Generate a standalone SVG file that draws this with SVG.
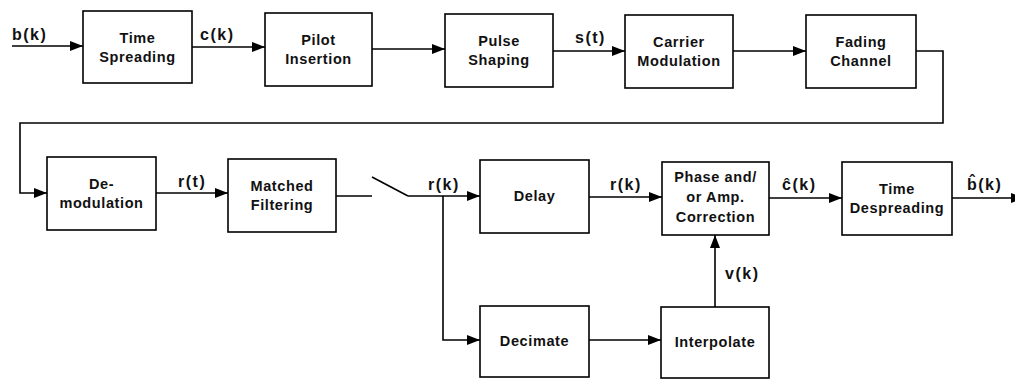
<svg xmlns="http://www.w3.org/2000/svg" width="1015" height="379" viewBox="0 0 1015 379">
  <style>
    .box { fill: #fff; stroke: #000; stroke-width: 1.6; }
    .t { font-family: "Liberation Sans", Arial, sans-serif; font-size: 14.5px; font-weight: bold; letter-spacing: 0.6px; text-anchor: middle; fill: #111; }
    .lbl { font-family: "Liberation Sans", Arial, sans-serif; font-size: 16px; font-weight: bold; letter-spacing: 1.5px; fill: #111; }
    .w { fill: none; stroke: #000; stroke-width: 1.6; }
    .a { marker-end: url(#arr); }
  </style>
  <defs>
    <marker id="arr" viewBox="0 0 13 10" refX="13" refY="5" markerWidth="13" markerHeight="10" markerUnits="userSpaceOnUse" orient="auto">
      <path d="M0,0 L13,5 L0,10 z" fill="#000"/>
    </marker>
  </defs>

  <!-- signal paths -->
  <g id="connectors">
    <line class="w a" x1="12" y1="46" x2="83" y2="46"/>
    <line class="w a" x1="192" y1="47" x2="265" y2="47"/>
    <line class="w a" x1="372" y1="49" x2="445" y2="49"/>
    <line class="w a" x1="553" y1="51" x2="625" y2="51"/>
    <line class="w a" x1="733" y1="51" x2="806" y2="51"/>
    <polyline class="w a" points="916,51 943,51 943,123 20,123 20,193 47,193"/>
    <line class="w a" x1="156" y1="193" x2="228" y2="193"/>
    <line class="w" x1="336" y1="196" x2="372" y2="196"/>
    <!-- sampling switch -->
    <line class="w" x1="372" y1="177" x2="408" y2="196"/>
    <line class="w a" x1="408" y1="196" x2="480" y2="196"/>
    <polyline class="w a" points="443,196 443,340 480,340"/>
    <line class="w a" x1="589" y1="197" x2="662" y2="197"/>
    <line class="w a" x1="769" y1="198" x2="842" y2="198"/>
    <line class="w a" x1="952" y1="198" x2="1024" y2="198"/>
    <line class="w a" x1="589" y1="340" x2="661" y2="340"/>
    <line class="w a" x1="715" y1="307" x2="715" y2="235"/>

    <text class="lbl" x="12" y="40">b(k)</text>
    <text class="lbl" x="200" y="40">c(k)</text>
    <text class="lbl" x="575" y="43">s(t)</text>
    <text class="lbl" x="178" y="187">r(t)</text>
    <text class="lbl" x="428" y="190">r(k)</text>
    <text class="lbl" x="610" y="190">r(k)</text>
    <text class="lbl" x="782" y="190">ĉ(k)</text>
    <text class="lbl" x="967" y="190">b̂(k)</text>
    <text class="lbl" x="725" y="279">v(k)</text>
  </g>

  <g id="time-spreading">
    <rect class="box" x="83" y="11" width="109" height="72"/>
    <text class="t" x="137.5" y="43">Time</text>
    <text class="t" x="137.5" y="62">Spreading</text>
  </g>
  <g id="pilot-insertion">
    <rect class="box" x="265" y="13" width="107" height="73"/>
    <text class="t" x="318.5" y="45">Pilot</text>
    <text class="t" x="318.5" y="64">Insertion</text>
  </g>
  <g id="pulse-shaping">
    <rect class="box" x="445" y="14" width="108" height="73"/>
    <text class="t" x="499" y="46">Pulse</text>
    <text class="t" x="499" y="65">Shaping</text>
  </g>
  <g id="carrier-modulation">
    <rect class="box" x="625" y="15" width="108" height="73"/>
    <text class="t" x="679" y="47">Carrier</text>
    <text class="t" x="679" y="66">Modulation</text>
  </g>
  <g id="fading-channel">
    <rect class="box" x="806" y="15" width="110" height="73"/>
    <text class="t" x="861" y="47">Fading</text>
    <text class="t" x="861" y="66">Channel</text>
  </g>
  <g id="demodulation">
    <rect class="box" x="47" y="157" width="109" height="73"/>
    <text class="t" x="101.5" y="189">De-</text>
    <text class="t" x="101.5" y="208">modulation</text>
  </g>
  <g id="matched-filtering">
    <rect class="box" x="228" y="159" width="108" height="73"/>
    <text class="t" x="282" y="191">Matched</text>
    <text class="t" x="282" y="210">Filtering</text>
  </g>
  <g id="delay">
    <rect class="box" x="480" y="160" width="109" height="73"/>
    <text class="t" x="534.5" y="201">Delay</text>
  </g>
  <g id="correction">
    <rect class="box" x="662" y="162" width="107" height="73"/>
    <text class="t" x="715.5" y="182">Phase and/</text>
    <text class="t" x="715.5" y="202">or Amp.</text>
    <text class="t" x="715.5" y="222">Correction</text>
  </g>
  <g id="time-despreading">
    <rect class="box" x="842" y="162" width="110" height="73"/>
    <text class="t" x="897" y="194">Time</text>
    <text class="t" x="897" y="213">Despreading</text>
  </g>
  <g id="decimate">
    <rect class="box" x="480" y="306" width="109" height="71"/>
    <text class="t" x="534.5" y="346">Decimate</text>
  </g>
  <g id="interpolate">
    <rect class="box" x="661" y="307" width="108" height="71"/>
    <text class="t" x="715" y="347">Interpolate</text>
  </g>
</svg>
